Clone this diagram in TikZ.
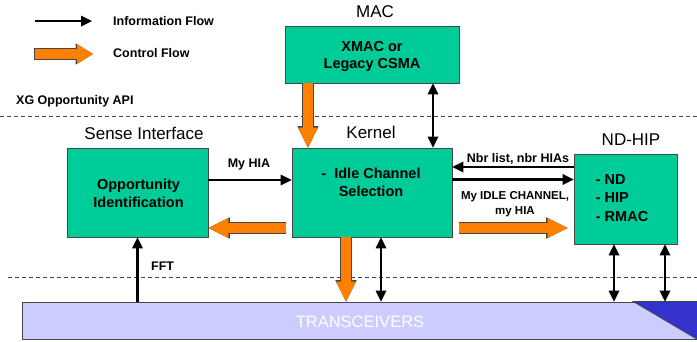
\documentclass[tikz,border=0pt]{standalone}
\usepackage{fontspec}
\setmainfont{Liberation Sans}
\usetikzlibrary{arrows.meta,calc}
\definecolor{boxgreen}{RGB}{0,204,153}
\definecolor{ctlorange}{RGB}{255,128,0}
\definecolor{outl}{RGB}{70,70,70}
\definecolor{transfill}{RGB}{204,204,255}
\definecolor{transdark}{RGB}{51,51,204}
\begin{document}
\begin{tikzpicture}[x=1pt,y=-1pt,
  box/.style={draw=outl, line width=0.9pt, fill=boxgreen, inner sep=0pt},
  hdr/.style={font=\fontsize{17}{20}\selectfont, anchor=base, inner sep=0pt},
  lbl/.style={font=\bfseries\fontsize{12.5}{15}\selectfont, anchor=base, inner sep=0pt},
  btxt/.style={font=\bfseries\fontsize{14.5}{17.5}\selectfont, inner sep=0pt, align=center},
  info/.style={line width=2.7pt, -{Triangle[length=11pt,width=11pt,line width=0pt]}},
  bidir/.style={line width=2.7pt, {Triangle[length=11pt,width=11pt,line width=0pt]}-{Triangle[length=11pt,width=11pt,line width=0pt]}},
  ctl/.style={preaction={draw=outl, line width=11.4pt, shorten <=-0.7pt, -{Triangle[length=21.4pt,width=21.4pt,line width=0pt]}},
              draw=ctlorange, line width=10pt, -{Triangle[length=20pt,width=20pt,line width=0pt]}},
  legctl/.style={preaction={draw=outl, line width=11.4pt, shorten <=-0.7pt, -{Triangle[length=17.4pt,width=21.4pt,line width=0pt]}},
              draw=ctlorange, line width=10pt, -{Triangle[length=16pt,width=20pt,line width=0pt]}},
  sepline/.style={draw=outl, line width=0.8pt, dash pattern=on 4pt off 3pt}]
\useasboundingbox (0,0) rectangle (697,341);
\fill[white] (0,0) rectangle (697,341);

% separators
\coordinate (d1l) at (0,116);
\coordinate (d1r) at (697,116);
\coordinate (d2l) at (8,277);
\coordinate (d2r) at (697,277);
\draw[sepline] (d1l) -- (d1r);
\draw[sepline] (d2l) -- (d2r);

% legend
\coordinate (la1) at (35,21);
\coordinate (la2) at (92,21);
\coordinate (lc1) at (35,54);
\coordinate (lc2) at (93,54);
\draw[info] (la1) -- (la2);
\draw[legctl] (lc1) -- (lc2);
\node[lbl, anchor=base west] (leg1) at (113,25.5) {Information Flow};
\node[lbl, anchor=base west] (leg2) at (113,57.5) {Control Flow};
\node[lbl, anchor=base west] (api) at (16,104.5) {XG Opportunity API};

% boxes
\node[box, minimum width=174pt, minimum height=57pt] (mac) at (372,54.5) {};
\node[box, minimum width=160pt, minimum height=89pt] (kern) at (372,192.5) {};
\node[box, minimum width=141pt, minimum height=89pt] (sense) at (137.5,192.5) {};
\node[box, minimum width=103pt, minimum height=90pt] (nd) at (625.5,199) {};
\node[draw=outl, line width=0.8pt, fill=transfill, minimum width=675pt, minimum height=37pt, inner sep=0pt] (trans) at (359.5,320.5) {};
\filldraw[fill=transdark, draw=outl, line width=0.8pt] ([xshift=-64pt]trans.north east) -- (trans.north east) -- (trans.south east) -- cycle;
\node[font=\fontsize{16.5}{19}\selectfont, text=white, anchor=base, inner sep=0pt] (transtxt) at (360,327.3) {TRANSCEIVERS};

% headers
\node[hdr] (machdr) at (375,17.3) {MAC};
\node[hdr] (kernhdr) at (371,138.5) {Kernel};
\node[hdr] (sensehdr) at (144,139.3) {Sense Interface};
\node[hdr] (ndhdr) at (631,145.7) {ND-HIP};

% box texts
\node[btxt, font=\bfseries\fontsize{14.5}{17}\selectfont] (mactxt) at (372,56) {XMAC or\\Legacy CSMA};
\node[btxt, font=\bfseries\fontsize{14.5}{17.7}\selectfont] (kerntxt) at (371,182.5) {-\ \ Idle Channel\\Selection};
\node[btxt, font=\bfseries\fontsize{14.5}{18.3}\selectfont] (sensetxt) at (138.5,193.3) {Opportunity\\Identification};
\node[btxt, font=\bfseries\fontsize{14.5}{18.3}\selectfont, align=left, anchor=west] (ndtxt) at (595.7,198) {- ND\\- HIP\\- RMAC};

% connector labels
\node[lbl] (myhia) at (249,167.7) {My HIA};
\node[lbl] (nbr) at (518,162) {Nbr list, nbr HIAs};
\node[lbl, anchor=center, align=center, font=\bfseries\fontsize{11.5}{15}\selectfont] (myidle) at (515,204.3) {My IDLE CHANNEL,\\my HIA};
\node[lbl, anchor=base west] (fft) at (151,270.3) {FFT};

% connectors
\draw[ctl] ([xshift=-64pt]mac.south) -- ([xshift=-64pt]kern.north);
\draw[bidir] ([xshift=61pt]mac.south) -- ([xshift=61pt]kern.north);
\draw[info] ([yshift=12.5pt]sense.east) -- ([yshift=12.5pt]kern.west);
\draw[ctl] ([shift={(-6pt,-35.5pt)}]kern.west) -- ([yshift=-35.5pt]sense.east);
\draw[info] ([yshift=32pt]nd.west) -- ([yshift=25.5pt]kern.east);
\draw[info] ([yshift=13pt]kern.east) -- ([yshift=19.5pt]nd.west);
\draw[ctl] ([shift={(7pt,-35.5pt)}]kern.east) -- ([shift={(-6pt,-29pt)}]nd.west);
\draw[info] (sense.south |- trans.north) -- (sense.south);
\coordinate (kc) at ([xshift=-26pt]kern.south);
\coordinate (kb) at ([xshift=9pt]kern.south);
\coordinate (n1) at ([xshift=-11.5pt]nd.south);
\coordinate (n2) at ([xshift=39.5pt]nd.south);
\draw[ctl] (kc) -- (kc |- trans.north);
\draw[bidir] (kb) -- (kb |- trans.north);
\draw[bidir] (n1) -- (n1 |- trans.north);
\draw[bidir] (n2) -- (n2 |- trans.north);
\end{tikzpicture}
\end{document}
